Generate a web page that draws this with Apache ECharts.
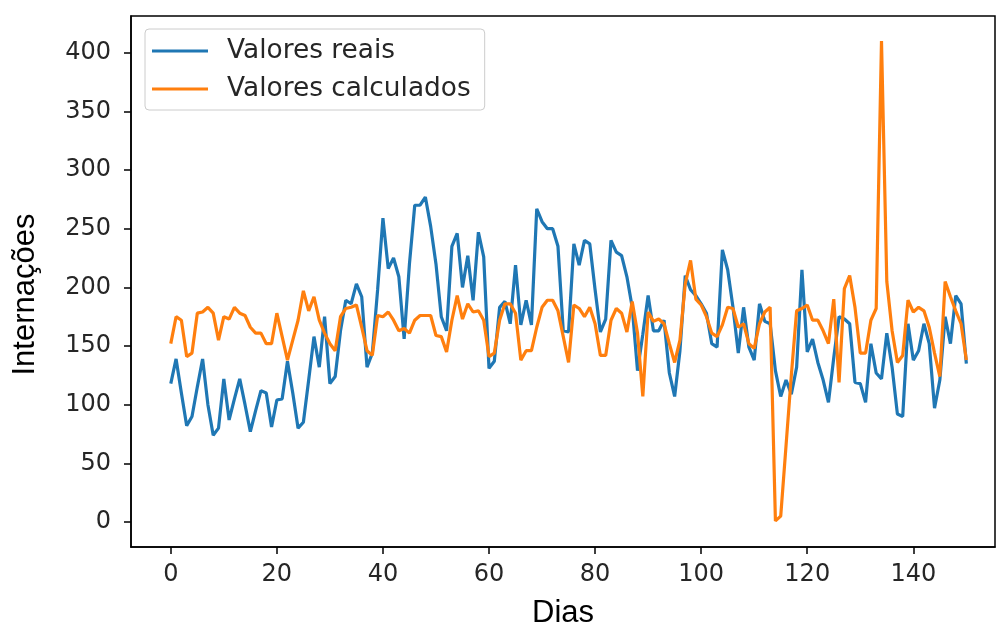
<!DOCTYPE html>
<html>
<head>
<meta charset="utf-8">
<script src="https://cdn.jsdelivr.net/npm/echarts@6/dist/echarts.min.js"></script>
<style>
  html, body { margin: 0; padding: 0; background: #fff; }
  #chart { width: 997px; height: 628px; }
</style>
</head>
<body>
<div id="chart"></div>
<script>
// valores (um por dia, 0..150)
var valoresReais = [
  118, 139, 110, 82, 90, 115, 139, 100, 74, 80,
  122, 87, 105, 122, 100, 77, 95, 112, 110, 81,
  104, 105, 137, 110, 80, 85, 121, 158, 132, 175,
  118, 124, 163, 189, 186, 203, 192, 132, 144, 198,
  259, 216, 225, 209, 156, 220, 270, 270, 277, 252,
  220, 175, 163, 235, 246, 200, 227, 189, 247, 226,
  131, 137, 183, 188, 169, 219, 168, 189, 168, 267,
  256, 250, 250, 235, 163, 162, 237, 219, 240, 237,
  198, 162, 173, 240, 230, 227, 209, 183, 129, 160,
  193, 163, 163, 172, 127, 107, 146, 210, 198, 193,
  186, 178, 152, 149, 232, 215, 183, 144, 183, 149,
  138, 186, 171, 169, 129, 107, 121, 109, 132, 215,
  145, 156, 136, 121, 102, 140, 175, 173, 169, 119,
  118, 102, 152, 127, 122, 161, 132, 92, 90, 169,
  138, 146, 169, 152, 97, 121, 175, 152, 193, 186,
  135
];
var valoresCalculados = [
  152, 175, 172, 141, 144, 178, 179, 183, 178, 155,
  175, 173, 183, 178, 176, 166, 161, 161, 152, 152,
  178, 158, 138, 155, 172, 197, 180, 192, 172, 161,
  152, 146, 175, 182, 183, 185, 166, 146, 142, 176,
  175, 179, 172, 163, 165, 161, 172, 176, 176, 176,
  159, 158, 145, 172, 193, 173, 186, 179, 180, 172,
  141, 144, 172, 186, 186, 178, 138, 146, 146, 166,
  183, 189, 189, 180, 158, 136, 185, 182, 175, 183,
  169, 142, 142, 172, 182, 178, 162, 188, 161, 107,
  179, 171, 173, 169, 152, 136, 155, 203, 223, 190,
  185, 175, 161, 158, 168, 183, 182, 166, 169, 152,
  148, 169, 179, 183, 1, 5, 65, 125, 180, 182,
  185, 172, 172, 163, 152, 190, 119, 199, 210, 183,
  144, 144, 172, 182, 410, 205, 163, 136, 142, 189,
  179, 183, 180, 166, 144, 124, 205, 192, 180, 169,
  138
];
var xTicks = [0, 20, 40, 60, 80, 100, 120, 140];
var yTicks = [0, 50, 100, 150, 200, 250, 300, 350, 400];

function toPairs(values) {
  return values.map(function (v, i) { return [i, v]; });
}

var dom = document.getElementById('chart');
var myChart = echarts.init(dom, null, { renderer: 'canvas' });

var tickFont = { color: '#262626', fontSize: 24, fontFamily: 'DejaVu Sans' };

var option = {
  animation: false,
  backgroundColor: '#ffffff',
  grid: {
    left: 131, right: 2, top: 16, bottom: 81,
    outerBoundsMode: 'none',
    containLabel: false,
    show: true, borderColor: '#000', borderWidth: 1.5, backgroundColor: 'transparent'
  },
  legend: {
    orient: 'vertical',
    left: 145, top: 29,
    padding: [7, 14, 6, 7],
    itemGap: 8,
    itemWidth: 56, itemHeight: 3,
    icon: 'rect',
    backgroundColor: 'rgba(255,255,255,0.8)',
    borderColor: '#cccccc', borderWidth: 1, borderRadius: 4,
    textStyle: {
      color: '#262626', fontSize: 26.4, fontFamily: 'DejaVu Sans',
      lineHeight: 30, padding: [0, 0, 0, 14]
    },
    data: ['Valores reais', 'Valores calculados']
  },
  xAxis: {
    type: 'value',
    min: -7.5, max: 155.4,
    name: 'Dias',
    nameLocation: 'middle',
    nameGap: 51,
    nameTextStyle: { color: '#000', fontSize: 31, fontFamily: 'Liberation Sans' },
    axisLine: { show: true, onZero: false, lineStyle: { color: '#000', width: 1.5 } },
    axisTick: { show: true, length: 7, lineStyle: { color: '#000', width: 1.5 }, customValues: xTicks },
    axisLabel: Object.assign({ margin: 16, customValues: xTicks }, tickFont),
    splitLine: { show: false }
  },
  yAxis: {
    type: 'value',
    min: -21.3, max: 431.3,
    name: 'Internações',
    nameLocation: 'middle',
    nameGap: 90,
    nameTextStyle: { color: '#000', fontSize: 31, fontFamily: 'Liberation Sans', padding: [0, 26, 0, 0] },
    axisLine: { show: true, onZero: false, lineStyle: { color: '#000', width: 1.5 } },
    axisTick: { show: true, length: 7, lineStyle: { color: '#000', width: 1.5 }, customValues: yTicks },
    axisLabel: Object.assign({ margin: 20, customValues: yTicks }, tickFont),
    splitLine: { show: false }
  },
  series: [
    {
      name: 'Valores reais',
      type: 'line',
      data: toPairs(valoresReais),
      showSymbol: false,
      color: '#1f77b4',
      lineStyle: { width: 3.2, color: '#1f77b4' }
    },
    {
      name: 'Valores calculados',
      type: 'line',
      data: toPairs(valoresCalculados),
      showSymbol: false,
      color: '#ff7f0e',
      lineStyle: { width: 3.2, color: '#ff7f0e' }
    }
  ]
};

myChart.setOption(option);
</script>
</body>
</html>
